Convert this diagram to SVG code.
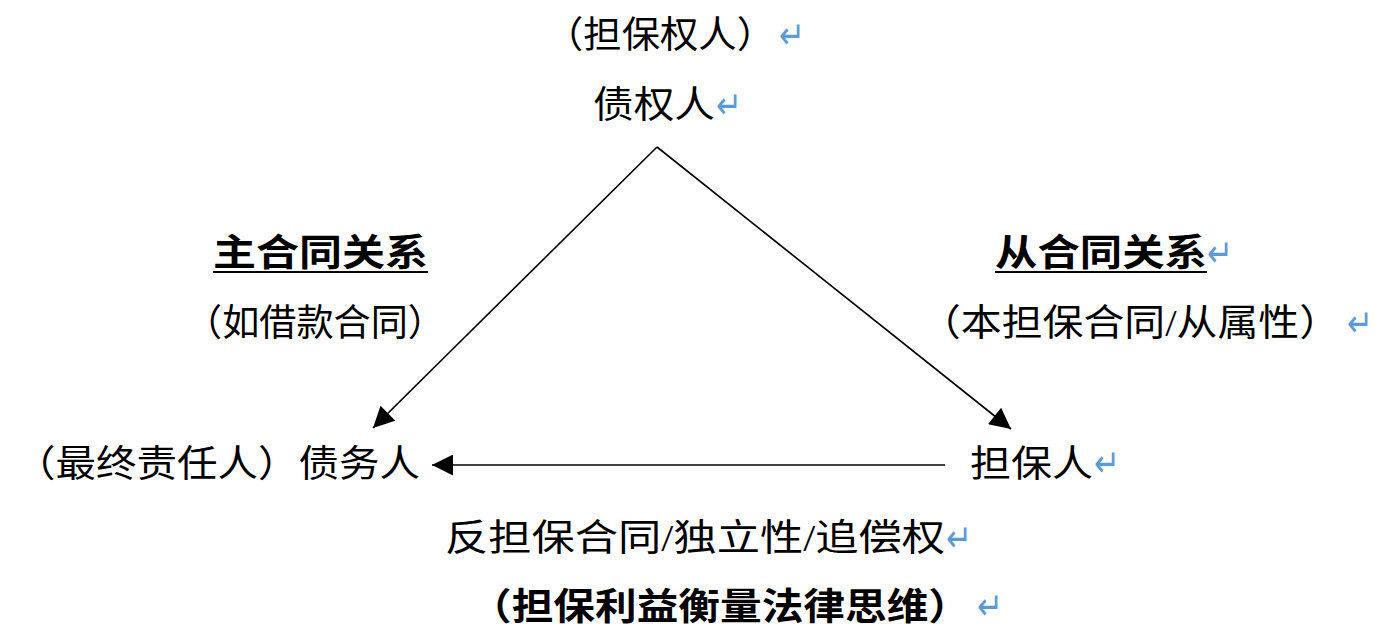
<svg xmlns="http://www.w3.org/2000/svg" width="1396" height="636" viewBox="0 0 1396 636">
<defs>
<style>
.t{font-family:"Liberation Serif","Noto Sans CJK SC",serif;font-size:37px;fill:#000}
.b{font-weight:bold}
.r{font-family:"DejaVu Sans","Noto Sans CJK SC",sans-serif;font-size:38px;fill:#5b9bd5}
.c{stroke:#000;stroke-width:1.6;fill:none}
</style>
<marker id="ah" viewBox="0 0 10 10" refX="10" refY="5" markerWidth="23" markerHeight="21" markerUnits="userSpaceOnUse" orient="auto">
<path d="M0,0 L10,5 L0,10 z" fill="#000"/>
</marker>
</defs>
<rect width="1396" height="636" fill="#fff"/>
<g id="connectors">
<line class="c" x1="657" y1="147" x2="373" y2="428" marker-end="url(#ah)"/>
<line class="c" x1="657" y1="147" x2="1011" y2="429" marker-end="url(#ah)"/>
<line class="c" x1="945" y1="465" x2="432" y2="465" marker-end="url(#ah)"/>
</g>
<g id="guarantee-creditor-label">
<text class="t" x="545" y="48" textLength="230" lengthAdjust="spacingAndGlyphs">（担保权人）</text>
<text class="r" x="779" y="48" textLength="26" lengthAdjust="spacingAndGlyphs">↵</text>
</g>
<g id="creditor">
<text class="t" x="593" y="118" textLength="122" lengthAdjust="spacingAndGlyphs">债权人</text>
<text class="r" x="716" y="118" textLength="26" lengthAdjust="spacingAndGlyphs">↵</text>
</g>
<g id="main-contract">
<text class="t b" x="213" y="266" textLength="215" lengthAdjust="spacingAndGlyphs">主合同关系</text>
<line x1="213" y1="272" x2="428" y2="272" stroke="#000" stroke-width="2"/>
<text class="t" x="185" y="336" textLength="260" lengthAdjust="spacingAndGlyphs">（如借款合同）</text>
</g>
<g id="sub-contract">
<text class="t b" x="995" y="266" textLength="212" lengthAdjust="spacingAndGlyphs">从合同关系</text>
<line x1="995" y1="272" x2="1207" y2="272" stroke="#000" stroke-width="2"/>
<text class="r" x="1207" y="266" textLength="26" lengthAdjust="spacingAndGlyphs">↵</text>
<text class="t" x="920" y="336" textLength="420" lengthAdjust="spacingAndGlyphs">（本担保合同/从属性）</text>
<text class="r" x="1347" y="336" textLength="26" lengthAdjust="spacingAndGlyphs">↵</text>
</g>
<g id="debtor">
<text class="t" x="15" y="477" textLength="405" lengthAdjust="spacingAndGlyphs">（最终责任人）债务人</text>
</g>
<g id="guarantor">
<text class="t" x="970" y="477" textLength="123" lengthAdjust="spacingAndGlyphs">担保人</text>
<text class="r" x="1094" y="476" textLength="26" lengthAdjust="spacingAndGlyphs">↵</text>
</g>
<g id="counter-guarantee">
<text class="t" x="445" y="551" textLength="500" lengthAdjust="spacingAndGlyphs">反担保合同/独立性/追偿权</text>
<text class="r" x="946" y="551" textLength="26" lengthAdjust="spacingAndGlyphs">↵</text>
<text class="t b" x="470" y="620" textLength="500" lengthAdjust="spacingAndGlyphs">（担保利益衡量法律思维）</text>
<text class="r" x="977" y="619" textLength="26" lengthAdjust="spacingAndGlyphs">↵</text>
</g>
</svg>
